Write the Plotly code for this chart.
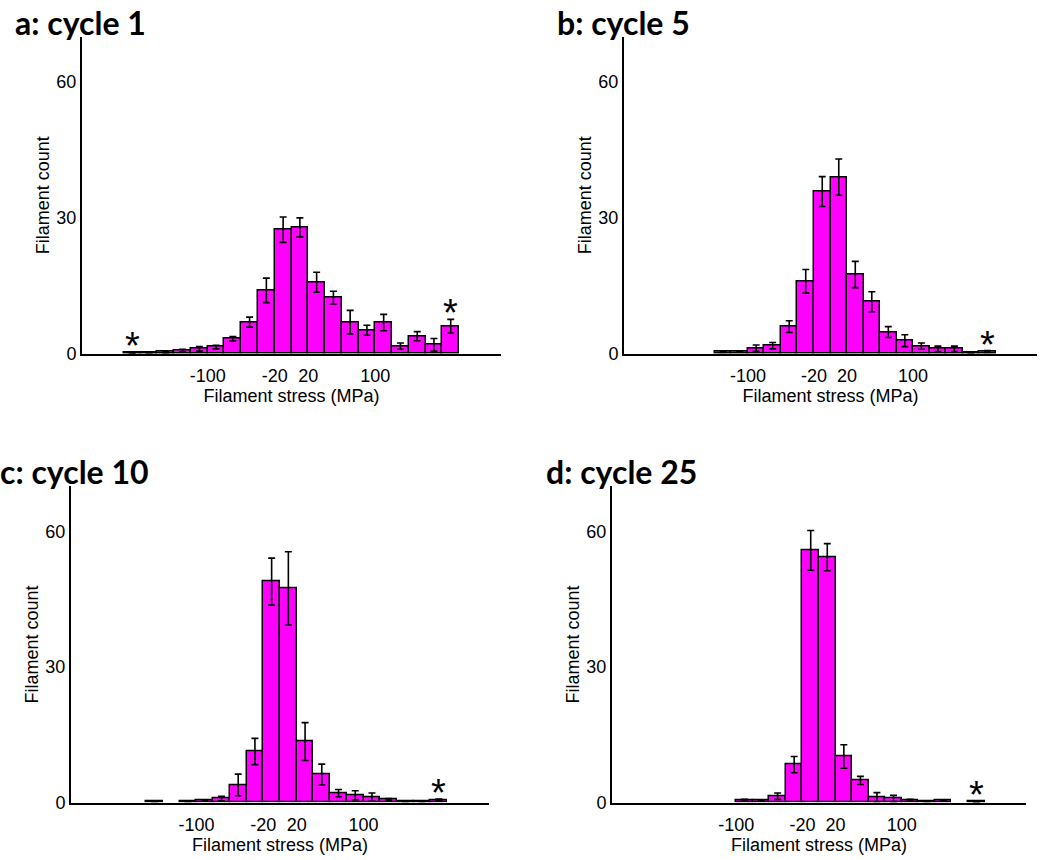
import plotly.graph_objects as go
from plotly.subplots import make_subplots

# bin centres (MPa), 20 MPa wide bins from -200 to 200
bin_centers = [-190, -170, -150, -130, -110, -90, -70, -50, -30, -10,
               10, 30, 50, 70, 90, 110, 130, 150, 170, 190]

# None = empty bin (no bar drawn)
cycle1_counts = [0.2, 0.3, 0.4, 0.7, 1.1, 1.5, 3.3, 7.0, 14.0, 27.4,
                 27.9, 15.8, 12.4, 7.0, 5.2, 6.9, 1.7, 3.9, 2.0, 6.1]
cycle1_err = [0.1, 0.1, 0.2, 0.3, 0.5, 0.4, 0.5, 1.1, 2.7, 2.8,
              2.1, 2.2, 1.4, 2.6, 1.1, 1.8, 0.7, 1.0, 1.4, 1.5]

cycle5_counts = [None, None, None, 0.4, 0.5, 1.25, 1.8, 6.0, 16.0, 35.8,
                 39.0, 17.5, 11.5, 4.8, 2.9, 1.7, 1.1, 1.1, 0.3, 0.5]
cycle5_err = [0, 0, 0, 0.1, 0.1, 0.7, 0.7, 1.3, 2.6, 3.3,
              4.0, 2.9, 2.2, 1.2, 1.3, 0.7, 0.6, 0.6, 0.1, 0.2]

cycle10_counts = [None, None, 0.3, None, 0.3, 0.4, 0.9, 3.9, 11.3, 48.9,
                  47.4, 13.5, 6.2, 2.1, 1.6, 1.2, 0.7, 0.3, 0.3, 0.6]
cycle10_err = [0, 0, 0.1, 0, 0.1, 0.1, 0.5, 2.4, 2.9, 5.2,
               8.1, 4.2, 2.3, 0.8, 1.0, 0.9, 0.2, 0.1, 0.1, 0.2]

cycle25_counts = [None, None, None, None, None, 0.5, 0.5, 1.4, 8.4, 55.8,
                  54.3, 10.2, 4.9, 1.2, 0.9, 0.5, 0.3, 0.5, None, 0.2]
cycle25_err = [0, 0, 0, 0, 0, 0.2, 0.1, 0.7, 1.8, 4.4,
               3.0, 2.6, 0.9, 1.0, 0.7, 0.2, 0.1, 0.1, 0, 0.1]

panel_titles = ["a: cycle 1", "b: cycle 5", "c: cycle 10", "d: cycle 25"]

# bins marked with an asterisk (index into bin_centers) per panel
star_bins = [[0, 19], [19], [19], [19]]

x_tickvals = [-100, -20, 20, 100]
x_ticktext = ["-100", "-20", "20", "100"]
y_tickvals = [0, 30, 60]

MAGENTA = "#FF00FF"
TICK_FONT = dict(family="Liberation Sans, Arial", size=18, color="black")

counts = [cycle1_counts, cycle5_counts, cycle10_counts, cycle25_counts]
errors = [cycle1_err, cycle5_err, cycle10_err, cycle25_err]

# panel placement in pixels (left, right, top, bottom) on a 1050x860 page
W, H = 1050, 860
boxes = [(82, 501, 37, 358), (624, 1037, 37, 358),
         (71, 489, 492, 812), (612, 1026, 492, 812)]
title_pos = [(13, 23), (555, 23), (-2, 477), (544, 477)]

fig = make_subplots(rows=2, cols=2)

for i, (vals, errs) in enumerate(zip(counts, errors)):
    row, col = i // 2 + 1, i % 2 + 1
    fig.add_trace(go.Bar(
        x=bin_centers,
        y=vals,
        width=20,
        marker=dict(color=MAGENTA, line=dict(color="black", width=1.5)),
        error_y=dict(type="data", array=errs, color="black",
                     thickness=1.6, width=3.5),
        showlegend=False,
        hoverinfo="skip",
    ), row=row, col=col)

    xa = "xaxis" if i == 0 else f"xaxis{i + 1}"
    ya = "yaxis" if i == 0 else f"yaxis{i + 1}"
    left, right, top, bottom = boxes[i]
    fig.layout[xa].update(
        domain=[left / W, right / W],
        range=[-250, 250],
        tickvals=x_tickvals, ticktext=x_ticktext,
        ticks="", showgrid=False, zeroline=False,
        showline=True, linecolor="black", linewidth=2,
        tickfont=TICK_FONT, ticklabelstandoff=5,
        title=dict(text="Filament stress (MPa)", font=TICK_FONT, standoff=0),
    )
    fig.layout[ya].update(
        domain=[1 - bottom / H, 1 - top / H],
        range=[0, 70],
        tickvals=y_tickvals,
        ticks="", showgrid=False, zeroline=False,
        showline=True, linecolor="black", linewidth=2,
        tickfont=TICK_FONT,
        title=dict(text="Filament count", font=TICK_FONT, standoff=2),
    )

    tx, ty = title_pos[i]
    fig.add_annotation(
        text=f"<b>{panel_titles[i]}</b>", xref="paper", yref="paper",
        x=tx / W, y=1 - ty / H, xanchor="left", yanchor="middle",
        showarrow=False, font=dict(family="Lato", size=32, color="black"),
    )

    xr = "x" if i == 0 else f"x{i + 1}"
    yr = "y" if i == 0 else f"y{i + 1}"
    for b in star_bins[i]:
        fig.add_annotation(
            text="*", xref=xr, yref=yr,
            x=bin_centers[b], y=(vals[b] or 0) + errs[b],
            xanchor="center", yanchor="bottom", yshift=-17,
            showarrow=False,
            font=dict(family="Liberation Sans, Arial", size=38, color="black"),
        )

fig.update_layout(
    width=W, height=H,
    margin=dict(l=0, r=0, t=0, b=0),
    paper_bgcolor="white", plot_bgcolor="white",
    bargap=0,
)

fig.write_html("out.html", config={"displayModeBar": False},
               post_script="document.body.style.margin='0';")
